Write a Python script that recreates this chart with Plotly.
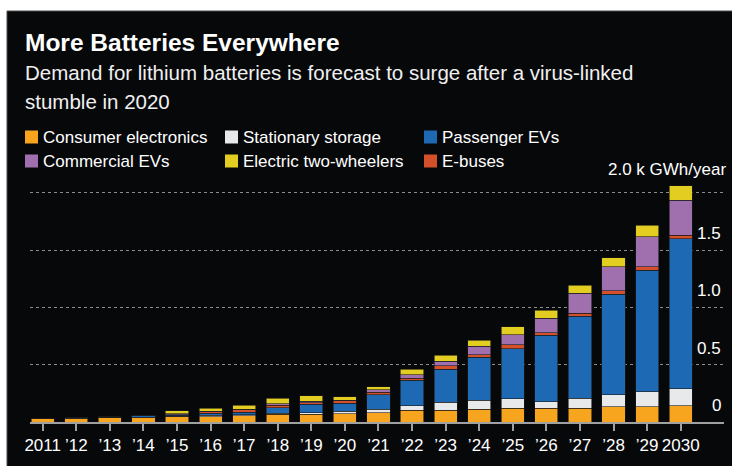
import plotly.graph_objects as go

# ---- data (GWh per year) ----
years = list(range(2011, 2031))
tick_labels = ["2011", "’12", "’13", "’14", "’15", "’16", "’17", "’18", "’19", "’20",
               "’21", "’22", "’23", "’24", "’25", "’26", "’27", "’28", "’29", "2030"]

consumer_electronics = [27, 28, 40, 37, 46, 47, 56, 68, 68, 72, 80, 101, 101, 110, 119, 119, 119, 131, 131, 140]
stationary_storage = [1, 5, 1, 4, 4, 11, 8, 9, 12, 22, 30, 39, 70, 79, 82, 58, 90, 107, 131, 151]
passenger_evs = [1, 2, 2, 12, 8, 18, 20, 49, 77, 68, 126, 223, 291, 375, 439, 579, 713, 876, 1061, 1306]
e_buses = [0, 1, 4, 6, 7, 12, 23, 20, 9, 22, 22, 17, 29, 21, 32, 21, 29, 32, 32, 31]
commercial_evs = [0, 0, 0, 1, 5, 8, 6, 14, 15, 8, 24, 33, 41, 75, 90, 127, 171, 209, 262, 309]
two_wheelers = [0, 1, 1, 1, 29, 26, 33, 47, 46, 28, 26, 49, 49, 52, 70, 70, 70, 79, 99, 125]

series = [
    ("Consumer electronics", consumer_electronics, "#f7a51e"),
    ("Stationary storage", stationary_storage, "#e8e9ea"),
    ("Passenger EVs", passenger_evs, "#1e69b4"),
    ("E-buses", e_buses, "#d4502a"),
    ("Commercial EVs", commercial_evs, "#9f6fae"),
    ("Electric two-wheelers", two_wheelers, "#e2cd20"),
]
legend_order = ["Consumer electronics", "Stationary storage", "Passenger EVs",
                "Commercial EVs", "Electric two-wheelers", "E-buses"]
grid_vals = [0.5, 1.0, 1.5, 2.0]
grid_text = ["0.5", "1.0", "1.5", "2.0 k GWh/year"]

# ---- layout geometry (pixels) ----
W, H = 732, 466
L, R, T, B = 30, 8, 181, 44
PW, PH = W - L - R, H - T - B


def px_x(px):
    return (px - L) / PW


def px_y(py):
    return (H - B - py) / PH


BG = "#07080a"
idx = list(range(len(years)))

fig = go.Figure()
for name, vals, color in series:
    fig.add_trace(go.Bar(
        x=idx, y=[v / 1000 for v in vals], name=name, width=0.69,
        marker=dict(color=color, line=dict(width=0.6, color="#1a1a1a")),
        showlegend=False,
    ))

shapes = [
    dict(type="rect", xref="paper", yref="paper", layer="below",
         x0=px_x(7), x1=px_x(W + 2), y0=px_y(11), y1=px_y(H + 2),
         fillcolor=BG, line=dict(color="#4a4a4a", width=1)),
]
annotations = [
    dict(text="<b>More Batteries Everywhere</b>", x=px_x(23), y=px_y(42),
         font=dict(size=24.5, color="#ffffff")),
    dict(text="Demand for lithium batteries is forecast to surge after a virus-linked",
         x=px_x(23), y=px_y(72), font=dict(size=20.5, color="#f0f0f0")),
    dict(text="stumble in 2020", x=px_x(23), y=px_y(101), font=dict(size=20.5, color="#f0f0f0")),
]
for a in annotations:
    a.update(xref="paper", yref="paper", xanchor="left", yanchor="middle", showarrow=False)

colors = {n: c for n, _, c in series}
col_x = [25, 225, 424]
row_y = [137, 161]
for k, name in enumerate(legend_order):
    cx = col_x[k % 3]
    cy = row_y[k // 3]
    shapes.append(dict(type="rect", xref="paper", yref="paper",
                       x0=px_x(cx), x1=px_x(cx + 13), y0=px_y(cy + 6.5), y1=px_y(cy - 6.5),
                       fillcolor=colors[name], line=dict(width=0)))
    annotations.append(dict(text=name, xref="paper", yref="paper", x=px_x(cx + 16), y=px_y(cy),
                            xanchor="left", yanchor="middle", showarrow=False,
                            font=dict(size=17, color="#ffffff")))

# y labels sitting above grid lines
for v, t in zip([0] + grid_vals, ["0"] + grid_text):
    top = v == 2.0
    annotations.append(dict(text=t, xref="paper", yref="y", x=px_x(728 if top else 723), y=v,
                            xanchor="right", yanchor="bottom", showarrow=False,
                            yshift=12 if top else 5,
                            font=dict(size=17, color="#ffffff")))

fig.update_layout(
    width=W, height=H,
    margin=dict(l=L, r=R, t=T, b=B, pad=0),
    paper_bgcolor="#ffffff", plot_bgcolor=BG,
    barmode="stack", bargap=0.3,
    font=dict(family="Liberation Sans, Arial, sans-serif", color="#ffffff"),
    shapes=shapes, annotations=annotations,
    xaxis=dict(range=[-0.378, 20.29], tickmode="array", tickvals=idx, ticktext=tick_labels,
               ticks="outside", ticklen=7, tickwidth=1.5, tickcolor="#a0a0a0", tickangle=0,
               showline=True, linecolor="#a0a0a0", linewidth=1.5, automargin=False,
               showgrid=False, zeroline=False, fixedrange=True,
               tickfont=dict(size=17, color="#ffffff")),
    yaxis=dict(range=[0, PH / 114.6], tickmode="array", tickvals=grid_vals, automargin=False,
               showticklabels=False, showgrid=True, gridcolor="#8c8c8c",
               griddash="dot", gridwidth=1, zeroline=False, ticks="", fixedrange=True),
)

fig.write_html(
    "out.html",
    config={"displayModeBar": False},
    post_script="document.body.style.margin='0';document.body.style.overflow='hidden';"
                "document.documentElement.style.overflow='hidden';",
)
